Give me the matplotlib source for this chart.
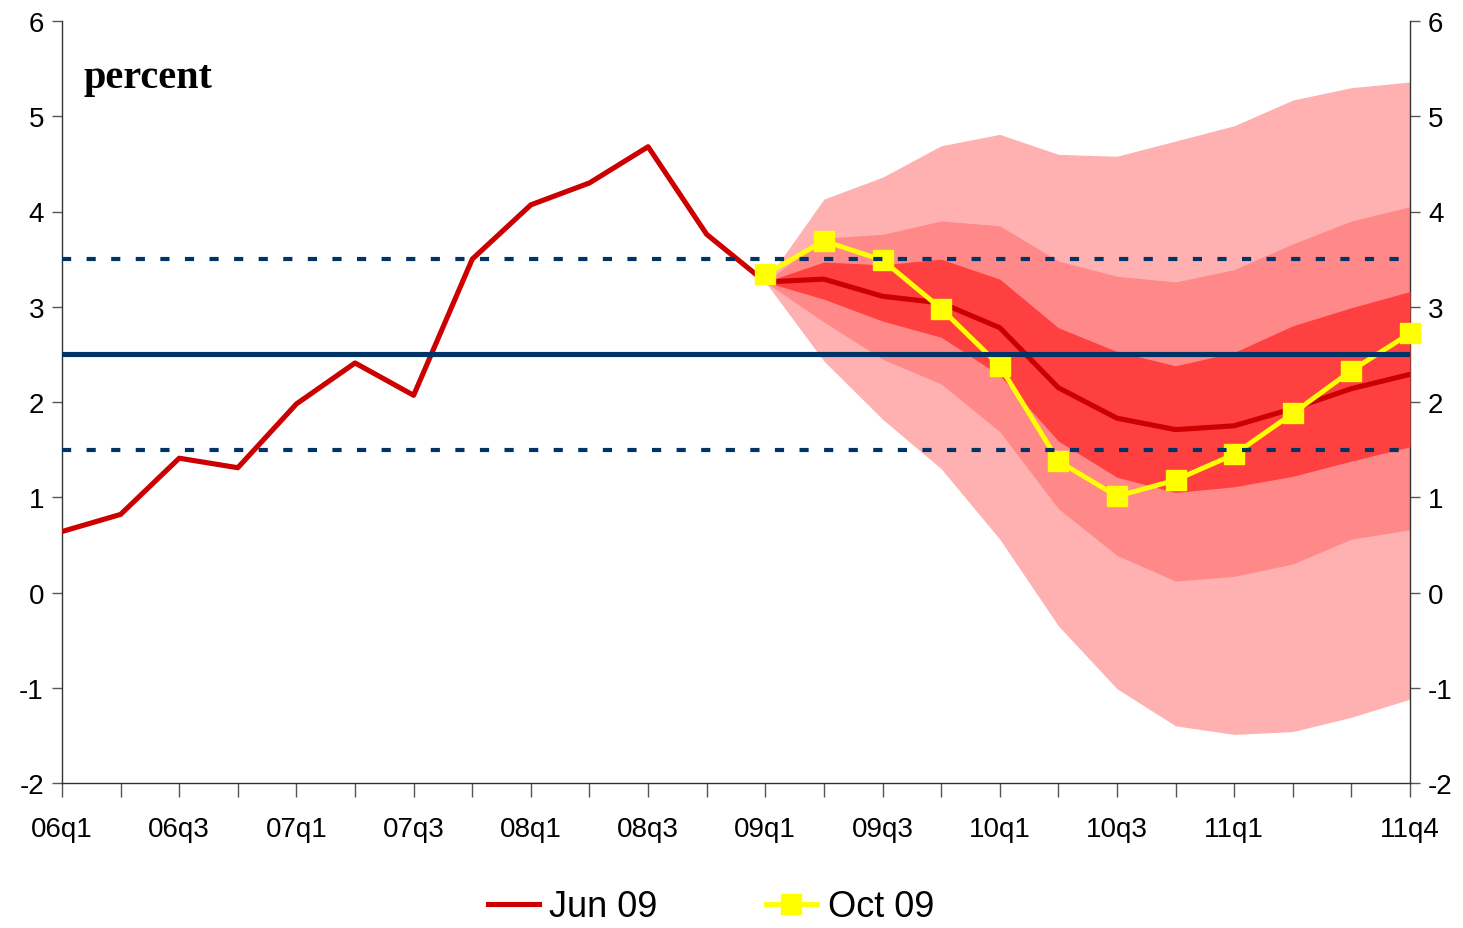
import matplotlib
matplotlib.use("Agg")
import matplotlib.pyplot as plt
import numpy as np

plt.rcParams["axes.unicode_minus"] = False

# quarters 06q1 .. 11q4
quarters = ["06q1", "06q2", "06q3", "06q4", "07q1", "07q2", "07q3", "07q4",
            "08q1", "08q2", "08q3", "08q4", "09q1", "09q2", "09q3", "09q4",
            "10q1", "10q2", "10q3", "10q4", "11q1", "11q2", "11q3", "11q4"]
shown_labels = ["06q1", "06q3", "07q1", "07q3", "08q1", "08q3", "09q1",
                "09q3", "10q1", "10q3", "11q1", "11q4"]

jun09 = [0.64, 0.82, 1.41, 1.31, 1.98, 2.41, 2.07, 3.50, 4.07, 4.30, 4.68, 3.76,
         3.26, 3.29, 3.11, 3.04, 2.78, 2.15, 1.83, 1.71, 1.75, 1.93, 2.14, 2.29]
oct09 = [3.34, 3.69, 3.49, 2.98, 2.38, 1.38, 1.01, 1.18, 1.45, 1.88, 2.33, 2.72]

# fan chart bands, 09q1 .. 11q4
outer_hi = [3.26, 4.13, 4.36, 4.69, 4.81, 4.60, 4.58, 4.74, 4.90, 5.17, 5.30, 5.36]
outer_lo = [3.26, 2.43, 1.82, 1.30, 0.56, -0.35, -1.01, -1.40, -1.49, -1.46, -1.31, -1.12]
mid_hi = [3.26, 3.72, 3.76, 3.90, 3.85, 3.48, 3.32, 3.26, 3.39, 3.66, 3.90, 4.05]
mid_lo = [3.26, 2.84, 2.45, 2.19, 1.69, 0.88, 0.39, 0.12, 0.17, 0.30, 0.56, 0.66]
inner_hi = [3.26, 3.47, 3.44, 3.50, 3.29, 2.78, 2.53, 2.38, 2.52, 2.80, 2.99, 3.16]
inner_lo = [3.26, 3.08, 2.85, 2.68, 2.28, 1.59, 1.21, 1.05, 1.11, 1.22, 1.38, 1.53]

target = 2.5
band = [1.5, 3.5]

x_all = np.arange(len(quarters))
x_fc = np.arange(12, 24)
navy = "#003366"

fig = plt.figure(figsize=(14.63, 9.29), dpi=100)
ax = fig.add_axes([62/1463, 1-784/929, (1410-62)/1463, (784-22)/929])

ax.fill_between(x_fc, outer_lo, outer_hi, color="#FFB0B0", lw=0, zorder=1)
ax.fill_between(x_fc, mid_lo, mid_hi, color="#FF8888", lw=0, zorder=2)
ax.fill_between(x_fc, inner_lo, inner_hi, color="#FF4040", lw=0, zorder=3)

ax.plot(x_all, jun09, color="#CC0000", lw=3.7, zorder=4, label="Jun 09")
ax.plot(x_fc, oct09, color="#FFFF00", lw=3.5, marker="s", ms=14, mec="#FFFF00",
        zorder=5, clip_on=False, label="Oct 09")

ax.axhline(target, color=navy, lw=3.7, zorder=6)
for b in band:
    ax.axhline(b, color=navy, lw=3, ls=(0, (2.2, 3.7)), zorder=6)

ax.set_xlim(0, 23)
ax.set_ylim(-2, 6)
ax.set_xticks(x_all)
ax.set_xticklabels([q if q in shown_labels else "" for q in quarters])
ax.set_yticks(range(-2, 7))

ax.spines["top"].set_visible(False)
for s in ["left", "right", "bottom"]:
    ax.spines[s].set_color("#333333")
    ax.spines[s].set_linewidth(1)

ax.tick_params(axis="x", direction="out", length=10, width=1, color="#555555",
               pad=14, labelsize=20)
ax.tick_params(axis="y", direction="out", length=7, width=1, color="#555555",
               labelsize=20, left=True, right=True, labelleft=True, labelright=True, pad=6)
for lab in ax.get_xticklabels() + ax.get_yticklabels():
    lab.set_family("Liberation Sans")

ax.text((83-62)/1348, 1-(88-22)/762, "percent", transform=ax.transAxes,
        family="Liberation Serif", fontweight="bold", fontsize=29, va="baseline")

fig.legend(loc="center", bbox_to_anchor=(711/1463, 1-908/929), ncol=2,
           frameon=False, prop={"family": "Liberation Sans", "size": 26},
           handlelength=1.4, handletextpad=0.3, columnspacing=3.0,
           borderpad=0.2)

fig.savefig("out.png", dpi=100)
